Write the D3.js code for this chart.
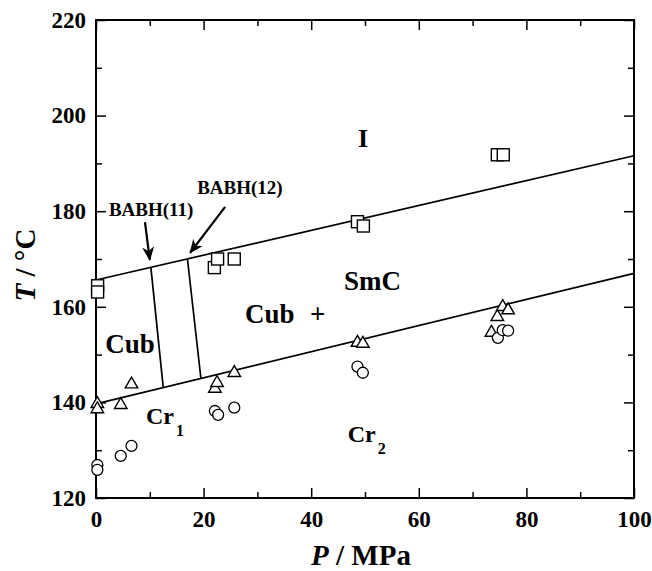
<!DOCTYPE html>
<html>
<head>
<meta charset="utf-8">
<script src="https://cdn.jsdelivr.net/npm/d3@7"></script>
<style>
  body { margin: 0; background: #fff; }
  text { font-family: "Liberation Serif", "Times New Roman", serif; font-weight: bold; }
</style>
</head>
<body>
<svg id="chart" width="652" height="571"></svg>
<script>
// data: [P / MPa, T / °C]
const squares = [[0.3, 164.4], [0.3, 163.1], [22.0, 168.2], [22.6, 170.0], [25.7, 170.0],
  [48.6, 177.8], [49.7, 176.9], [74.6, 191.8], [75.7, 191.8]];
const triangles = [[0.25, 139.9], [0.25, 138.8], [4.6, 139.7], [6.6, 144.0], [22.1, 143.1],
  [22.5, 144.3], [25.7, 146.4], [48.6, 152.7], [49.6, 152.5], [73.5, 154.8], [74.6, 158.1],
  [75.6, 160.2], [76.6, 159.5]];
const circles = [[0.25, 126.9], [0.25, 125.9], [4.6, 128.8], [6.6, 130.9], [22.1, 138.2],
  [22.7, 137.4], [25.7, 138.9], [48.6, 147.5], [49.6, 146.2], [74.7, 153.5], [75.6, 155.1],
  [76.6, 155.0]];

const upperLine = [[0, 165.6], [100, 191.6]];
const lowerLine = [[0, 139.7], [100, 167.0]];
const babh11 = [[10.2, 168.25], [12.5, 143.1]];
const babh12 = [[17.0, 170.0], [19.5, 145.0]];

const xMajor = [0, 20, 40, 60, 80, 100];
const xMinor = [10, 30, 50, 70, 90];
const yMajor = [120, 140, 160, 180, 200, 220];
const yMinor = [130, 150, 170, 190, 210];

const svg = d3.select("#chart"),
  margin = { top: 20, right: 18, bottom: 73, left: 96 },
  width = +svg.attr("width") - margin.left - margin.right,
  height = +svg.attr("height") - margin.top - margin.bottom;

const g = svg.append("g").attr("transform", `translate(${margin.left},${margin.top})`);

const x = d3.scaleLinear().domain([0, 100]).range([0, width]);
const y = d3.scaleLinear().domain([120, 220]).range([height, 0]);

// axes: inward ticks on all four sides
function axisFor(side) {
  return side === "bottom" ? d3.axisBottom(x) : side === "top" ? d3.axisTop(x)
    : side === "left" ? d3.axisLeft(y) : d3.axisRight(y);
}
const sides = [["bottom", `translate(0,${height})`], ["top", null], ["left", null],
  ["right", `translate(${width},0)`]];
sides.forEach(([side, tr]) => {
  const isX = side === "bottom" || side === "top";
  const labeled = side === "bottom" || side === "left";
  const pad = side === "bottom" ? 13 : 10;
  const maj = g.append("g").call(axisFor(side).tickValues(isX ? xMajor : yMajor)
    .tickSize(-10).tickPadding(pad).tickFormat(labeled ? d3.format("d") : ""));
  const mn = g.append("g").call(axisFor(side).tickValues(isX ? xMinor : yMinor)
    .tickSize(-6).tickFormat(""));
  [maj, mn].forEach((a) => {
    if (tr) a.attr("transform", tr);
    a.select(".domain").remove();
    a.selectAll("line").attr("stroke", "#000").attr("stroke-width", 1.5);
    a.selectAll("text").attr("font-size", "23px").attr("fill", "#000")
      .style("font-family", '"Liberation Serif", serif').style("font-weight", "bold");
  });
});

// frame
g.append("rect").attr("width", width).attr("height", height)
  .attr("fill", "none").attr("stroke", "#000").attr("stroke-width", 2);

// phase boundaries
const line = d3.line().x((d) => x(d[0])).y((d) => y(d[1]));
[upperLine, lowerLine, babh11, babh12].forEach((l) => {
  g.append("path").attr("d", line(l)).attr("fill", "none")
    .attr("stroke", "#000").attr("stroke-width", 1.7);
});

// markers
g.selectAll(".sq").data(squares).enter().append("rect")
  .attr("x", (d) => x(d[0]) - 6).attr("y", (d) => y(d[1]) - 6)
  .attr("width", 12).attr("height", 12)
  .attr("fill", "#fff").attr("stroke", "#000").attr("stroke-width", 1.4);

g.selectAll(".tri").data(triangles).enter().append("path")
  .attr("d", d3.symbol().type(d3.symbolTriangle).size(68))
  .attr("transform", (d) => `translate(${x(d[0])},${y(d[1]) + 1})`)
  .attr("fill", "#fff").attr("stroke", "#000").attr("stroke-width", 1.4);

g.selectAll(".circ").data(circles).enter().append("circle")
  .attr("cx", (d) => x(d[0])).attr("cy", (d) => y(d[1])).attr("r", 5.5)
  .attr("fill", "#fff").attr("stroke", "#000").attr("stroke-width", 1.3);

// arrows for BABH labels
svg.append("defs").append("marker")
  .attr("id", "arrow").attr("viewBox", "0 0 14 12").attr("refX", 13).attr("refY", 6)
  .attr("markerWidth", 14).attr("markerHeight", 12).attr("markerUnits", "userSpaceOnUse")
  .attr("orient", "auto")
  .append("path").attr("d", "M0,0 L14,6 L0,12 L4,6 Z").attr("fill", "#000");

const arrows = [[[9.1, 177.7], [10.0, 169.8]], [[24.0, 180.9], [17.5, 171.3]]];
arrows.forEach((a) => {
  g.append("path").attr("d", line(a)).attr("stroke", "#000").attr("stroke-width", 2.2)
    .attr("marker-end", "url(#arrow)");
});

const notes = [["BABH(11)", 2.4, 179.0], ["BABH(12)", 18.8, 183.6]];
notes.forEach(([t, p, T]) => {
  g.append("text").attr("x", x(p)).attr("y", y(T)).attr("font-size", "19px").text(t);
});

// phase labels
const phases = [["I", 48.7, 193.4, 26], ["SmC", 46.1, 163.5, 27], ["Cub", 27.7, 156.6, 27],
  ["+", 39.8, 156.6, 27], ["Cub", 1.7, 150.3, 27]];
phases.forEach(([t, p, T, fs]) => {
  g.append("text").attr("x", x(p)).attr("y", y(T)).attr("font-size", fs + "px").text(t);
});
const crystals = [["1", 9.3, 135.5], ["2", 46.8, 131.7]];
crystals.forEach(([s, p, T]) => {
  const t = g.append("text").attr("x", x(p)).attr("y", y(T)).attr("font-size", "24px");
  t.append("tspan").text("Cr");
  t.append("tspan").attr("dx", 2).attr("dy", 12).attr("font-size", "16px").text(s);
});

// axis titles
const xt = svg.append("text").attr("x", margin.left + width / 2 - 4).attr("y", 565)
  .attr("text-anchor", "middle").attr("font-size", "29px");
xt.append("tspan").attr("font-style", "italic").text("P");
xt.append("tspan").text(" / MPa");

const yt = svg.append("text")
  .attr("transform", `translate(35,${margin.top + height / 2 + 6}) rotate(-90)`)
  .attr("text-anchor", "middle").attr("font-size", "29px");
yt.append("tspan").attr("font-style", "italic").text("T");
yt.append("tspan").text(" / °C");
</script>
</body>
</html>
